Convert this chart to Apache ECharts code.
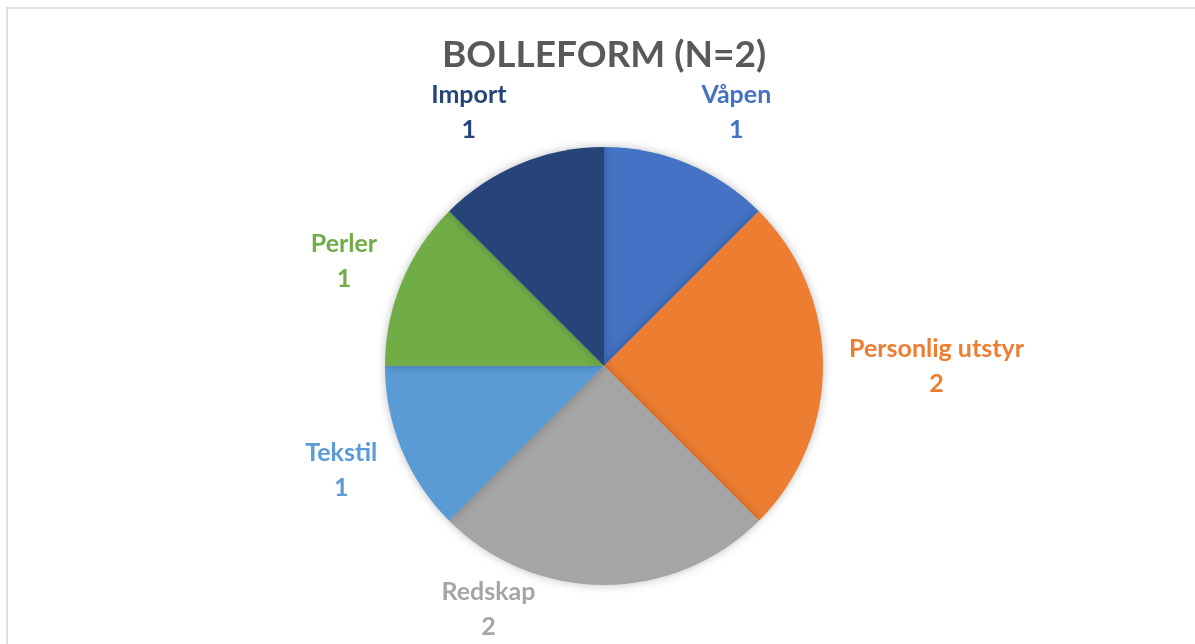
<!DOCTYPE html>
<html>
<head>
<meta charset="utf-8">
<title>Bolleform</title>
<script src="https://cdn.jsdelivr.net/npm/echarts@6/dist/echarts.min.js"></script>
<style>
	html, body { margin: 0; padding: 0; background: #fff; }
	#frame {
		position: absolute; left: 6px; top: 7px; width: 1300px; height: 700px;
		border-top: 2px solid #e0e0e0; border-left: 2px solid #e0e0e0;
	}
	#chart { position: absolute; left: 0; top: 0; width: 1195px; height: 644px; }
</style>
</head>
<body>
<div id="frame"></div>
<div id="chart"></div>
<script>
	// data
	var categories = ['Våpen', 'Personlig utstyr', 'Redskap', 'Tekstil', 'Perler', 'Import'];
	var values = [1, 2, 2, 1, 1, 1];
	var colors = ['#4472C4', '#ED7D31', '#A5A5A5', '#5B9BD5', '#70AD47', '#264478'];

	var CX = 604, CY = 366, RADIUS = 219, GAP = 20;
	var total = values.reduce(function(a, b) { return a + b; }, 0);

	var chart = echarts.init(document.getElementById('chart'));

	// put each label just outside the pie along the slice's middle angle, Excel-style
	function placeLabel(params) {
		var i = params.dataIndex;
		var before = 0;
		for (var j = 0; j < i; j++) before += values[j];
		var mid = (before + values[i] / 2) / total * Math.PI * 2;
		var ux = Math.sin(mid), uy = -Math.cos(mid);
		if (Math.abs(ux) < 1e-6) ux = 0;
		if (Math.abs(uy) < 1e-6) uy = 0;
		var w = params.labelRect.width, h = params.labelRect.height;
		var R = RADIUS + GAP;
		var x = CX + ux * R + Math.sign(ux) * (w / 2 + 6);
		var y = CY + uy * R + uy * h / 2;
		var H = chart.getHeight();
		if (y + h / 2 > H) {
			// no room below: pull it up and slide it sideways off the circle
			y = H - h / 2;
			var dy = (y - h / 2) - CY;
			var dx = Math.sqrt(Math.max(RADIUS * RADIUS - dy * dy, 0));
			x = CX - dx - w / 2;
		}
		return { x: x, y: y, align: 'center', verticalAlign: 'middle' };
	}

	var option = {
		title: {
			text: 'BOLLEFORM (N=2)',
			left: CX,
			textAlign: 'center',
			top: 37,
			padding: 0,
			textStyle: {
				fontFamily: 'Lato',
				fontWeight: 'bold',
				fontSize: 37,
				color: '#595959'
			}
		},
		series: [{
			type: 'pie',
			center: [CX, CY],
			radius: RADIUS,
			startAngle: 90,
			clockwise: true,
			animation: false,
			itemStyle: {
				borderWidth: 0,
				shadowBlur: 10,
				shadowColor: 'rgba(0, 0, 0, 0.25)'
			},
			label: {
				show: true,
				position: 'outside',
				formatter: '{b}\n{c}',
				fontFamily: 'Lato',
				fontWeight: 'bold',
				fontSize: 25,
				lineHeight: 35,
				color: 'inherit'
			},
			labelLine: { show: false },
			labelLayout: placeLabel,
			data: categories.map(function(name, k) {
				return {
					name: name,
					value: values[k],
					itemStyle: { color: colors[k] },
					label: { color: colors[k] }
				};
			})
		}]
	};
	chart.setOption(option);
</script>
</body>
</html>
